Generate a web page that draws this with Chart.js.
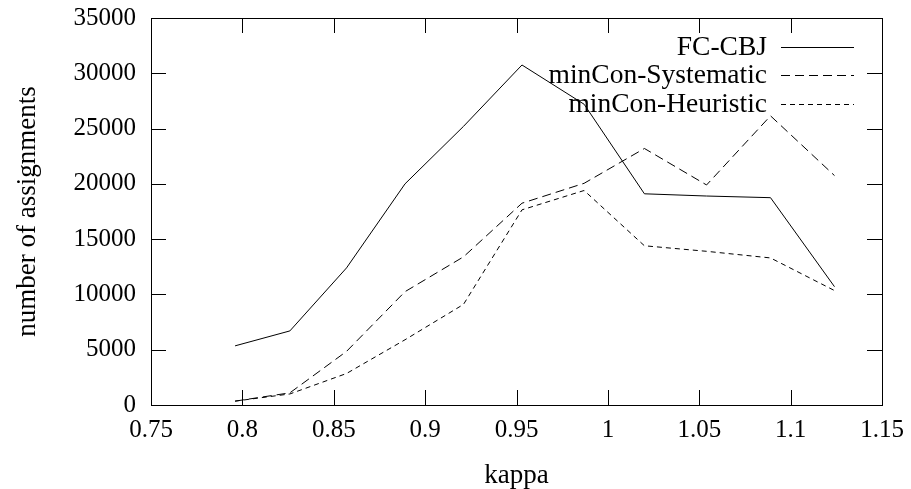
<!DOCTYPE html>
<html>
<head>
<meta charset="utf-8">
<script src="https://cdn.jsdelivr.net/npm/chart.js@4.4.1/dist/chart.umd.min.js"></script>
<style>
  html, body { margin: 0; padding: 0; background: #fff; }
  #wrap { width: 911px; height: 489px; }
</style>
</head>
<body>
<div id="wrap"><canvas id="grafico" width="911" height="489"></canvas></div>
<script>
// valores
const kappa = [0.796, 0.826, 0.857, 0.889, 0.921, 0.953, 0.987, 1.020, 1.054, 1.089, 1.124];
const fcCbj = [5350, 6700, 12400, 20000, 25200, 30750, 27200, 19100, 18900, 18750, 10700];
const minConSystematic = [350, 1100, 4850, 10250, 13400, 18250, 20050, 23200, 19900, 26150, 20750];
const minConHeuristic = [350, 1000, 2850, 5900, 9100, 17650, 19400, 14400, 13900, 13300, 10350];
const seriesNames = ['FC-CBJ', 'minCon-Systematic', 'minCon-Heuristic'];

const fonte = "'Liberation Serif', 'Times New Roman', serif";

function pontos(valores) {
    return kappa.map((k, i) => ({ x: k, y: valores[i] }));
}

// moldura e ticks para dentro, estilo gnuplot
const molduraPlugin = {
    id: 'moldura',
    afterDatasetsDraw(chart) {
        const ctx = chart.ctx;
        const a = chart.chartArea;
        const xs = chart.scales.x;
        const ys = chart.scales.y;
        const len = 15;
        ctx.save();
        ctx.strokeStyle = '#000';
        ctx.lineWidth = 1;
        ctx.beginPath();
        xs.ticks.forEach(t => {
            const px = Math.round(xs.getPixelForValue(t.value)) + 0.5;
            ctx.moveTo(px, a.bottom); ctx.lineTo(px, a.bottom - len);
            ctx.moveTo(px, a.top); ctx.lineTo(px, a.top + len);
        });
        ys.ticks.forEach(t => {
            const py = Math.round(ys.getPixelForValue(t.value)) + 0.5;
            ctx.moveTo(a.left, py); ctx.lineTo(a.left + len, py);
            ctx.moveTo(a.right, py); ctx.lineTo(a.right - len, py);
        });
        ctx.stroke();
        ctx.strokeRect(Math.round(a.left) + 0.5, Math.round(a.top) + 0.5,
            Math.round(a.right - a.left), Math.round(a.bottom - a.top));
        ctx.restore();
    }
};

// legenda dentro da área, texto à direita alinhado
const legendaPlugin = {
    id: 'legenda',
    afterDatasetsDraw(chart) {
        const ctx = chart.ctx;
        const a = chart.chartArea;
        ctx.save();
        ctx.font = '27.5px ' + fonte;
        ctx.fillStyle = '#000';
        ctx.textAlign = 'right';
        ctx.textBaseline = 'middle';
        chart.data.datasets.forEach((ds, i) => {
            const y = Math.round(a.top + 28.7 + i * 28.7) + 0.5;
            ctx.fillText(ds.label, a.right - 115, y);
            ctx.beginPath();
            ctx.strokeStyle = ds.borderColor;
            ctx.lineWidth = ds.borderWidth;
            ctx.setLineDash(ds.borderDash || []);
            ctx.moveTo(a.right - 101, y);
            ctx.lineTo(a.right - 28, y);
            ctx.stroke();
        });
        ctx.restore();
    }
};

function criarGrafico() {
    const ctx = document.getElementById('grafico').getContext('2d');
    new Chart(ctx, {
        type: 'line',
        data: {
            datasets: [
                { label: seriesNames[0], data: pontos(fcCbj), borderDash: [] },
                { label: seriesNames[1], data: pontos(minConSystematic), borderDash: [9, 5] },
                { label: seriesNames[2], data: pontos(minConHeuristic), borderDash: [5, 4] }
            ].map(d => Object.assign(d, {
                borderColor: '#000',
                borderWidth: 1,
                pointRadius: 0,
                tension: 0,
                fill: false
            }))
        },
        options: {
            responsive: false,
            animation: false,
            layout: { padding: { top: 18, right: 29, left: 0, bottom: 0 } },
            plugins: {
                legend: { display: false },
                tooltip: { enabled: false }
            },
            scales: {
                x: {
                    type: 'linear',
                    min: 0.75,
                    max: 1.15,
                    ticks: {
                        stepSize: 0.05,
                        padding: 10,
                        color: '#000',
                        font: { family: fonte, size: 25 },
                        maxRotation: 0,
                        callback: v => String(+v.toFixed(2))
                    },
                    grid: { display: false, drawTicks: false },
                    border: { display: false },
                    title: {
                        display: true,
                        text: 'kappa',
                        color: '#000',
                        font: { family: fonte, size: 27, lineHeight: 1.0 },
                        padding: { top: 0, bottom: 0 }
                    },
                    afterFit: s => {
                        s.height = 84;
                        s.paddingLeft = 0;
                        s.paddingRight = 0;
                    }
                },
                y: {
                    min: 0,
                    max: 35000,
                    ticks: {
                        stepSize: 5000,
                        padding: 15,
                        color: '#000',
                        font: { family: fonte, size: 25 },
                        callback: v => String(v)
                    },
                    grid: { display: false, drawTicks: false },
                    border: { display: false },
                    title: {
                        display: true,
                        text: 'number of assignments',
                        color: '#000',
                        font: { family: fonte, size: 27 },
                        padding: { top: 12, bottom: 0 }
                    },
                    afterFit: s => {
                        s.width = 151;
                        s.paddingTop = 0;
                        s.paddingBottom = 0;
                    }
                }
            }
        },
        plugins: [molduraPlugin, legendaPlugin]
    });
}

document.addEventListener('DOMContentLoaded', criarGrafico);
</script>
</body>
</html>
